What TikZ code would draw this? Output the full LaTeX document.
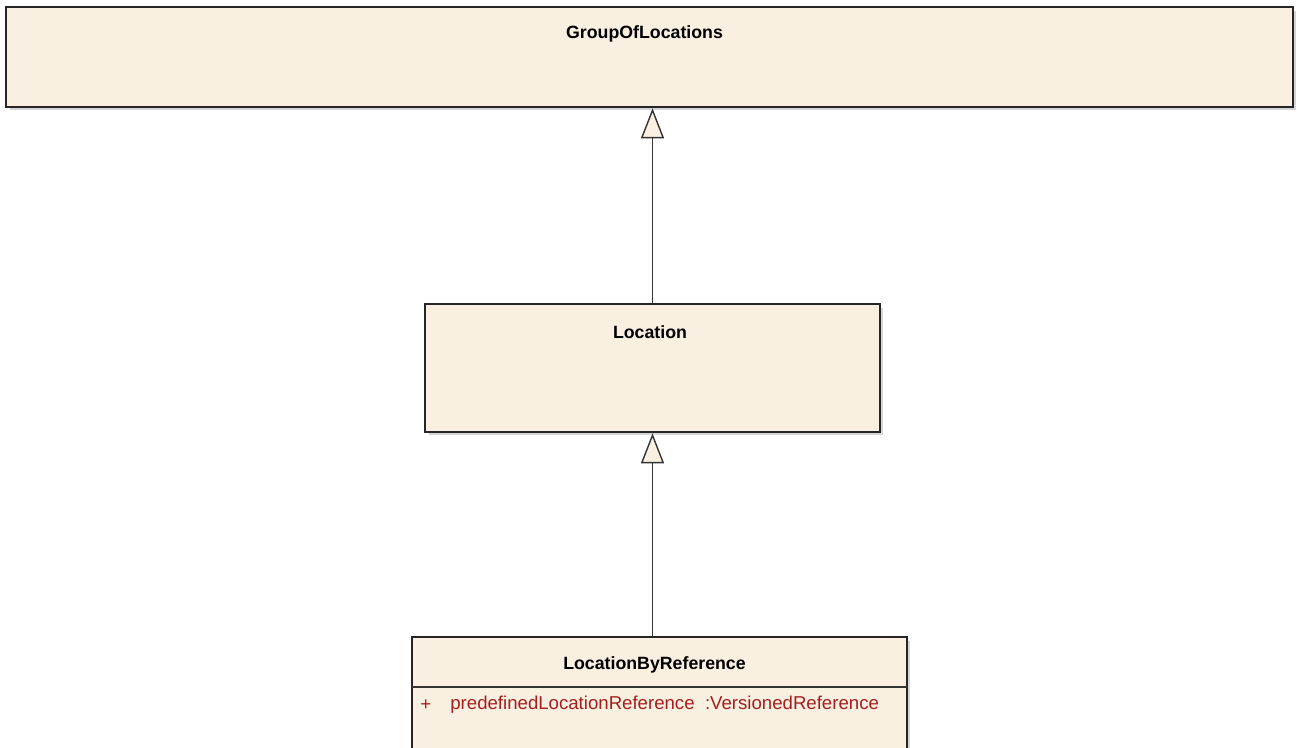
\documentclass[tikz,border=0pt]{standalone}
\usepackage{fontspec}
\setmainfont{Liberation Sans}
\usepackage{tikz}
\usetikzlibrary{arrows.meta,positioning,calc,shadows}

\definecolor{boxfill}{RGB}{250,240,225}
\definecolor{attrred}{RGB}{165,30,30}

\begin{document}
\begin{tikzpicture}[x=0.02cm,y=-0.02cm,
			cls/.style={rectangle,draw=black!85,line width=1.5pt,fill=boxfill,inner sep=0pt,
				drop shadow={shadow xshift=0.7mm,shadow yshift=-0.7mm,fill=black!20,opacity=0.8}},
			title/.style={font=\fontsize{10.1}{12}\selectfont\bfseries,inner sep=0pt},
			attr/.style={font=\fontsize{10.6}{12}\selectfont,text=attrred,inner sep=0pt,anchor=west},
			gen/.style={-{Triangle[length=0.6cm,width=0.46cm,fill=boxfill]},draw=black!80,line width=0.8pt}]
		\useasboundingbox (0,0) rectangle (1297,747);
		\path 	(649.5,57) 	node 	(grp) [cls, minimum width=25.74cm, minimum height=2cm] {}
		        (652.5,368) node 	(loc) [cls, minimum width=9.1cm, minimum height=2.56cm] {}
		        (659.5,698.5) node 	(lbr) [cls, minimum width=9.9cm, minimum height=2.46cm] {};
		\path 	(644.5,34) 	node 	(grpname) [title] {GroupOfLocations}
		        (650,332) 	node 	(locname) [title] {Location}
		        (654.5,665) node 	(lbrname) [title] {LocationByReference};
		\draw [black!80,line width=0.8pt] (lbr.west |- 0,687) -- (lbr.east |- 0,687);
		\path 	(420,705) 	node 	(plus) [attr] {+}
		        (450,705) 	node 	(lbrattr) [attr] {predefinedLocationReference\ \ :VersionedReference};
		\draw [gen] (loc.north) -- (loc.north |- grp.south);
		\draw [gen] (lbr.north -| loc.south) -- (loc.south);
	\end{tikzpicture}
\end{document}
